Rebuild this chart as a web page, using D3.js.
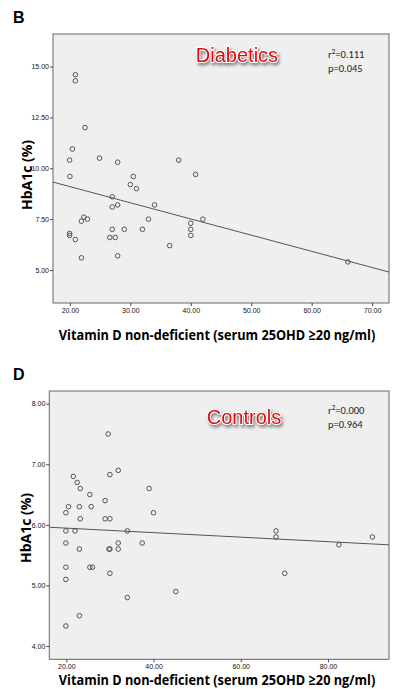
<!DOCTYPE html>
<html><head><meta charset="utf-8">
<script src="https://cdn.jsdelivr.net/npm/d3@7"></script>
<style>
body{margin:0;background:#fff;}
svg{display:block;font-family:Arial,"Liberation Sans",sans-serif;}
</style></head>
<body>
<svg id="c" width="398" height="689"></svg>
<script>
// ---- Data: panel B (Diabetics) ----
const diabX = [20.9,20.9,22.5,20.4,19.95,24.9,27.9,38.0,20.0,30.5,40.8,30.0,31.0,27.0,27.0,27.9,34.0,22.3,21.9,22.9,33.0,40.0,42.0,19.95,19.95,27.0,29.0,32.0,40.0,40.0,20.9,26.6,27.5,36.5,21.9,27.9,66.0];
const diabY = [14.6,14.3,12.0,10.95,10.4,10.5,10.3,10.4,9.6,9.6,9.7,9.2,9.0,8.6,8.1,8.2,8.2,7.6,7.4,7.5,7.5,7.3,7.5,6.8,6.7,7.0,7.0,7.0,7.0,6.7,6.5,6.6,6.6,6.2,5.6,5.7,5.4];
const diabFit = {intercept:10.69, slope:-0.0795};
const diabXTicks = [20,30,40,50,60,70];
const diabYTicks = [5,7.5,10,12.5,15];

// ---- Data: panel D (Controls) ----
const ctrlX = [29.6,21.6,31.9,30.0,22.5,23.2,39.0,25.4,28.9,20.5,23.0,25.7,19.9,40.0,23.2,28.9,30.0,19.9,22.0,34.0,68.1,68.1,90.2,19.9,31.9,37.4,82.5,23.0,29.8,30.0,31.9,19.9,25.4,26.0,19.9,30.0,70.1,45.1,34.0,23.0,19.9];
const ctrlY = [7.5,6.8,6.9,6.83,6.7,6.6,6.6,6.5,6.4,6.3,6.3,6.3,6.2,6.2,6.1,6.1,6.1,5.9,5.9,5.9,5.9,5.8,5.8,5.7,5.7,5.7,5.67,5.6,5.6,5.6,5.6,5.3,5.3,5.3,5.1,5.2,5.2,4.9,4.8,4.5,4.33];
const ctrlFit = {intercept:6.02, slope:-0.00372};
const ctrlXTicks = [20,40,60,80];
const ctrlYTicks = [4,5,6,7,8];

const xLabel = "Vitamin D non-deficient (serum 25OHD \u226520 ng/ml)";
const yLabel = "HbA1c (%)";

const svg = d3.select("#c");
const defs = svg.append("defs");
const f = defs.append("filter").attr("id","sh").attr("x","-20%").attr("y","-40%").attr("width","140%").attr("height","200%");
f.append("feDropShadow").attr("dx",1.5).attr("dy",2.5).attr("stdDeviation",1.6).attr("flood-color","#555").attr("flood-opacity",0.7);

function panel(o){
  const g = svg.append("g");
  const x = d3.scaleLinear().domain(o.xDom).range([o.left,o.right]);
  const y = d3.scaleLinear().domain(o.yDom).range([o.bottom,o.top]);
  g.append("text").attr("x",13).attr("y",o.letterY).attr("font-size",16).attr("font-weight","bold").text(o.letter);
  g.append("rect").attr("x",o.left).attr("y",o.top).attr("width",o.right-o.left).attr("height",o.bottom-o.top)
    .attr("fill","#efefef").attr("stroke","#666").attr("stroke-width",1);
  const ya = g.append("g").attr("transform",`translate(${o.left},0)`)
    .call(d3.axisLeft(y).tickValues(o.yTicks).tickSize(3).tickFormat(d3.format(".2f")));
  const xa = g.append("g").attr("transform",`translate(0,${o.bottom})`)
    .call(d3.axisBottom(x).tickValues(o.xTicks).tickSize(3).tickFormat(d3.format(".2f")));
  [ya,xa].forEach(a=>{a.select(".domain").remove();
    a.selectAll("text").attr("font-size",7).attr("font-family","Arial, sans-serif").attr("fill","#111");
    a.selectAll("line").attr("stroke","#444");});
  ya.selectAll("text").attr("x",-4);
  xa.selectAll("text").attr("y",5);
  const x0=o.xDom[0], x1=o.xDom[1];
  g.append("line").attr("x1",x(x0)).attr("y1",y(o.fit.intercept+o.fit.slope*x0))
    .attr("x2",x(x1)).attr("y2",y(o.fit.intercept+o.fit.slope*x1)).attr("stroke","#555").attr("stroke-width",1);
  g.selectAll("circle.p").data(o.xs.map((d,i)=>[d,o.ys[i]])).join("circle").attr("class","p")
    .attr("cx",d=>x(d[0])).attr("cy",d=>y(d[1])).attr("r",2.3).attr("fill","none").attr("stroke","#444").attr("stroke-width",0.9);
  g.append("text").attr("x",o.titleX).attr("y",o.titleY).attr("text-anchor","middle").attr("font-size",20)
    .attr("fill","#dd1111").attr("stroke","#fff").attr("stroke-width",1.8).attr("paint-order","stroke")
    .attr("filter","url(#sh)").text(o.title);
  const st = g.append("text").attr("x",328).attr("y",o.statY).attr("font-size",10.5).attr("fill","#222")
    .attr("font-family","Calibri, Carlito, 'Open Sans', sans-serif");
  st.append("tspan").text("r");
  st.append("tspan").attr("dy",-4).attr("font-size",7).text("2");
  st.append("tspan").attr("dy",4).text("="+o.r2);
  g.append("text").attr("x",328).attr("y",o.statY+14).attr("font-size",10.5).attr("fill","#222")
    .attr("font-family","Calibri, Carlito, 'Open Sans', sans-serif").text("p="+o.p);
  g.append("text").attr("transform",`translate(${o.yLabX},${o.yLabY}) rotate(-90)`).attr("text-anchor","middle")
    .attr("font-size",14).attr("font-weight","bold").attr("font-family","'Open Sans', Calibri, sans-serif").text(yLabel);
  g.append("text").attr("transform",`translate(217,${o.xLabY}) scale(0.85,1)`).attr("text-anchor","middle").attr("font-size",15)
    .attr("font-weight","bold").attr("font-family","'Open Sans', Calibri, sans-serif").text(xLabel);
}

panel({letter:"B",letterY:23,left:53,right:389,top:34,bottom:303,xDom:[17.2,72.8],yDom:[3.38,16.6],
  xs:diabX,ys:diabY,fit:diabFit,xTicks:diabXTicks,yTicks:diabYTicks,title:"Diabetics",titleX:237,titleY:62,
  r2:"0.111",p:"0.045",statY:58,yLabX:32,yLabY:175,xLabY:340});
panel({letter:"D",letterY:380,left:49.3,right:389,top:391,bottom:659.3,xDom:[16.1,94.0],yDom:[3.78,8.21],
  xs:ctrlX,ys:ctrlY,fit:ctrlFit,xTicks:ctrlXTicks,yTicks:ctrlYTicks,title:"Controls",titleX:244,titleY:424,
  r2:"0.000",p:"0.964",statY:414,yLabX:31,yLabY:528,xLabY:685});
</script>
</body></html>
